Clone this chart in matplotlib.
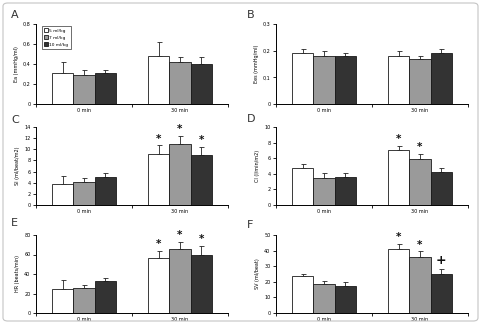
import matplotlib
matplotlib.use("Agg")
import matplotlib.pyplot as plt
from matplotlib.patches import FancyBboxPatch
import numpy as np

GROUPS = ["0 min", "30 min"]
DOSES = ["5 ml/kg", "7 ml/kg", "10 ml/kg"]
COLORS = ["white", "#9a9a9a", "#333333"]

# mean / sd per dose (rows) and group (cols)
A_mean = [[0.31, 0.48], [0.29, 0.42], [0.31, 0.40]]
A_err = [[0.11, 0.14], [0.05, 0.05], [0.03, 0.07]]
B_mean = [[0.19, 0.18], [0.18, 0.17], [0.18, 0.19]]
B_err = [[0.015, 0.02], [0.02, 0.01], [0.01, 0.015]]
C_mean = [[3.8, 9.2], [4.1, 10.9], [5.0, 8.9]]
C_err = [[1.4, 1.5], [0.8, 1.5], [0.7, 1.6]]
D_mean = [[4.8, 7.1], [3.4, 5.9], [3.6, 4.2]]
D_err = [[0.5, 0.5], [0.7, 0.7], [0.5, 0.6]]
E_mean = [[25, 56], [26, 66], [33, 60]]
E_err = [[9, 8], [3, 7], [3, 9]]
F_mean = [[23.6, 41], [18.4, 35.7], [17.5, 25]]
F_err = [[1.5, 3.5], [2.1, 4], [2.1, 3.2]]

C_mark = [["", "*"], ["", "*"], ["", "*"]]
D_mark = [["", "*"], ["", "*"], ["", ""]]
E_mark = [["", "*"], ["", "*"], ["", "*"]]
F_mark = [["", "*"], ["", "*"], ["", "+"]]
NO_MARK = [["", ""], ["", ""], ["", ""]]

panels = [
    ("A", "Ea (mmHg/ml)", 0.8, 0.2, A_mean, A_err, NO_MARK),
    ("B", "Ees (mmHg/ml)", 0.3, 0.1, B_mean, B_err, NO_MARK),
    ("C", "SI (ml/beat/m2)", 14, 2, C_mean, C_err, C_mark),
    ("D", "CI (l/min/m2)", 10, 2, D_mean, D_err, D_mark),
    ("E", "HR (beats/min)", 80, 20, E_mean, E_err, E_mark),
    ("F", "SV (ml/beat)", 50, 10, F_mean, F_err, F_mark),
]

W, H = 481, 324
fig = plt.figure(figsize=(W / 100, H / 100), dpi=100)

border = FancyBboxPatch((3 / W, 3 / H), 475 / W, 318 / H, boxstyle="round,pad=0,rounding_size=0.01",
                        transform=fig.transFigure, fill=False, ec="#c4c4c4", lw=0.8)
fig.patches.append(border)

rows = [(24, 104), (127, 205), (235, 313)]
cols = [(36, 228), (276, 468)]
letter_pos = [(11, 15), (247, 15), (11, 120), (247, 119), (11, 223), (247, 225)]

bw = 0.222
x = np.arange(len(GROUPS))

for i, (letter, ylab, ymax, ystep, means, errs, marks) in enumerate(panels):
    r, c = divmod(i, 2)
    top, bot = rows[r]
    left, right = cols[c]
    ax = fig.add_axes([left / W, 1 - bot / H, (right - left) / W, (bot - top) / H])
    for d in range(3):
        xs = x + (d - 1) * bw
        ax.bar(xs, means[d], bw, color=COLORS[d], edgecolor="#1a1a1a", linewidth=0.6,
               label=DOSES[d], zorder=2)
        ax.errorbar(xs, means[d], yerr=[[0] * len(GROUPS), errs[d]], fmt="none",
                    ecolor="#222222", elinewidth=0.6, capsize=1.8, capthick=0.6, zorder=1)
        for g in range(len(GROUPS)):
            m = marks[d][g]
            if m:
                ax.text(xs[g], means[d][g] + errs[d][g] + ymax * 0.02, m, ha="center", va="bottom",
                        fontsize=7.5 if m == "*" else 9, fontweight="bold", color="#111111")
    ax.set_xlim(-0.5, 1.5)
    ax.set_ylim(0, ymax)
    yt = np.arange(0, ymax + ystep / 2, ystep)
    ax.set_yticks(yt)
    if ystep < 1:
        ax.set_yticklabels(["0" if v == 0 else ("%.1f" % v).replace(".", ",") for v in yt])
    else:
        ax.set_yticklabels(["%d" % v for v in yt])
    ax.set_xticks([-0.5, 0.5, 1.5])
    ax.set_xticklabels([])
    ax.set_xticks(x, minor=True)
    ax.set_xticklabels(GROUPS, minor=True)
    ax.tick_params(axis="x", which="minor", length=0, labelsize=3.5, pad=3)
    ax.tick_params(axis="x", which="major", length=2, width=0.6, direction="out")
    ax.tick_params(axis="y", length=2, width=0.6, labelsize=3.5, pad=2)
    for s in ["top", "right"]:
        ax.spines[s].set_visible(False)
    for s in ["left", "bottom"]:
        ax.spines[s].set_linewidth(0.7)
    ax.set_ylabel(ylab, fontsize=3.5, labelpad=3)
    lx, ly = letter_pos[i]
    fig.text(lx / W, 1 - ly / H, letter, fontsize=8, color="#333333", va="center", ha="left")
    if letter == "A":
        leg = ax.legend(loc="upper left", bbox_to_anchor=(0.02, 1.0), fontsize=3.2, frameon=True,
                        fancybox=False, edgecolor="black", handlelength=0.8, handleheight=0.8,
                        handletextpad=0.3, borderpad=0.5, labelspacing=0.6)
        leg.get_frame().set_linewidth(0.5)

fig.savefig("out.png", dpi=100)
